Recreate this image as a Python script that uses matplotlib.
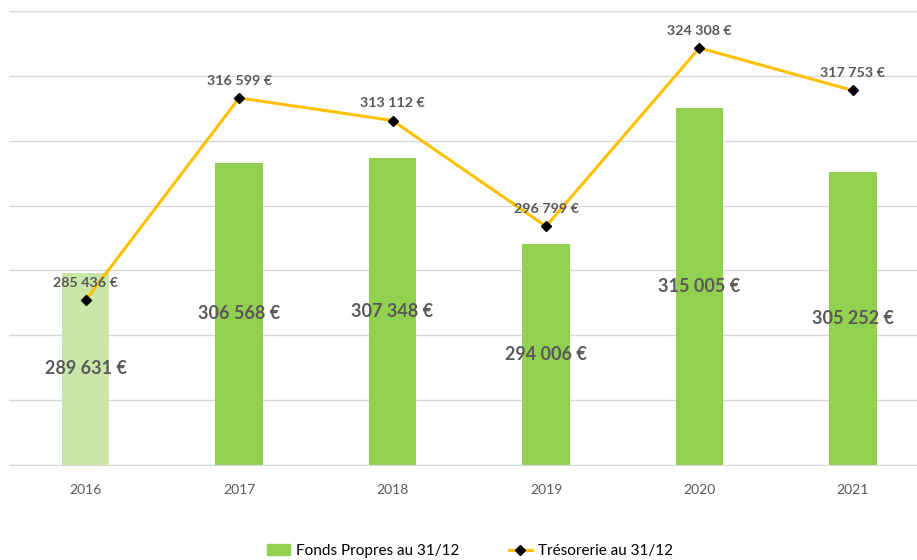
import numpy as np
import matplotlib.pyplot as plt
from matplotlib.patches import Patch
from matplotlib.lines import Line2D

plt.rcParams['font.family'] = ['Lato', 'DejaVu Sans']

# Données
annees = ['2016', '2017', '2018', '2019', '2020', '2021']
fonds_propres = [289631, 306568, 307348, 294006, 315005, 305252]
tresorerie = [285436, 316599, 313112, 296799, 324308, 317753]

VERT = '#92D050'
VERT_CLAIR = '#C9E6A8'
OR = '#FFC000'
GRIS_TEXTE = '#595959'

def fmt(v):
    return f'{v:,}'.replace(',', ' ') + ' €'

fig = plt.figure(figsize=(9.17, 5.6), dpi=100)
ax = fig.add_axes([9 / 917, 1 - 465 / 560, 920.5 / 917, 454 / 560])

x = np.arange(len(annees))
couleurs = [VERT_CLAIR] + [VERT] * (len(annees) - 1)
ax.bar(x, fonds_propres, width=0.31, color=couleurs, zorder=2)
ax.plot(x, tresorerie, color=OR, lw=2.2, marker='D', ms=5,
        mfc='black', mec='black', zorder=3)

ax.set_ylim(260000, 330000)
ax.set_xlim(-0.5, 5.5)
ax.set_yticks(np.arange(260000, 330001, 10000))
ax.yaxis.grid(True, color='#D9D9D9', lw=1, zorder=0)
ax.set_yticklabels([])
ax.tick_params(axis='y', length=0)
ax.tick_params(axis='x', length=0, pad=14, labelsize=10, labelcolor=GRIS_TEXTE)
ax.set_xticks(x)
ax.set_xticklabels(annees)
for s in ['top', 'right', 'left']:
    ax.spines[s].set_visible(False)
ax.spines['bottom'].set_color('#D9D9D9')

# Étiquettes des barres (centrées)
for xi, v in zip(x, fonds_propres):
    ax.text(xi, (260000 + v) / 2, fmt(v), ha='center', va='center',
            fontsize=13, fontweight='bold', color=GRIS_TEXTE, zorder=4)

# Étiquettes de la ligne (au-dessus)
for xi, v in zip(x, tresorerie):
    ax.annotate(fmt(v), (xi, v), xytext=(0, 8), textcoords='offset points',
                ha='center', va='bottom', fontsize=10.3, fontweight='bold',
                color=GRIS_TEXTE, zorder=4)

handles = [Patch(color=VERT),
           Line2D([], [], color=OR, lw=2.2, marker='D', ms=5, mfc='black', mec='black')]
fig.legend(handles, ['Fonds Propres au 31/12', 'Trésorerie au 31/12'],
           loc='center', bbox_to_anchor=(470 / 917, 1 - 551 / 560), ncol=2,
           frameon=False, fontsize=11, columnspacing=3.2, handlelength=1.5,
           handletextpad=0.4)

plt.savefig('out.png', dpi=100)
